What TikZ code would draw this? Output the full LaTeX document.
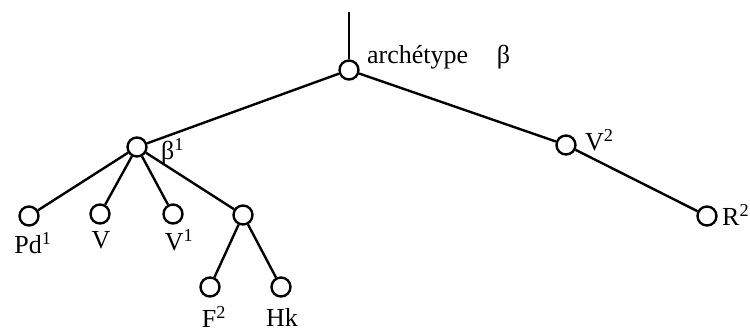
\documentclass[tikz,border=0pt]{standalone}
\usepackage{fontspec}
\setmainfont{Liberation Serif}
\begin{document}
\begin{tikzpicture}[x=1pt,y=-1pt,
  nd/.style={circle,draw,line width=2.4pt,minimum size=19pt,inner sep=0pt,fill=white},
  lbl/.style={font=\fontsize{26}{30}\selectfont,inner sep=1pt},
  edge/.style={line width=2.4pt}]
\useasboundingbox (0,0) rectangle (750,333);
\node[nd] (r) at (349,70) {};
\coordinate (top) at (349,12);
\node[nd] (b1) at (137,147) {};
\node[nd] (v2) at (566,145) {};
\node[nd] (r2) at (707,216) {};
\node[nd] (pd) at (29,216) {};
\node[nd] (v) at (100,214) {};
\node[nd] (v1) at (173,214) {};
\node[nd] (x) at (243,215) {};
\node[nd] (f2) at (210,287) {};
\node[nd] (hk) at (281,287) {};
\draw[edge] (top) -- (r);
\draw[edge] (r) -- (b1);
\draw[edge] (r) -- (v2);
\draw[edge] (v2) -- (r2);
\draw[edge] (b1) -- (pd);
\draw[edge] (b1) -- (v);
\draw[edge] (b1) -- (v1);
\draw[edge] (b1) -- (x);
\draw[edge] (x) -- (f2);
\draw[edge] (x) -- (hk);
\node[lbl,anchor=west] (la) at (366,57) {archétype\hspace{1.1em}β};
\node[lbl,anchor=west] (lb1) at (160,152) {β\textsuperscript{1}};
\node[lbl,anchor=west] (lv2) at (584,140) {V\textsuperscript{2}};
\node[lbl,anchor=west] (lr2) at (721,215) {R\textsuperscript{2}};
\node[lbl] (lpd) at (33,243) {Pd\textsuperscript{1}};
\node[lbl] (lv) at (101,240) {V};
\node[lbl] (lv1) at (179,240) {V\textsuperscript{1}};
\node[lbl] (lf2) at (214,317) {F\textsuperscript{2}};
\node[lbl] (lhk) at (282,317) {Hk};
\end{tikzpicture}
\end{document}
